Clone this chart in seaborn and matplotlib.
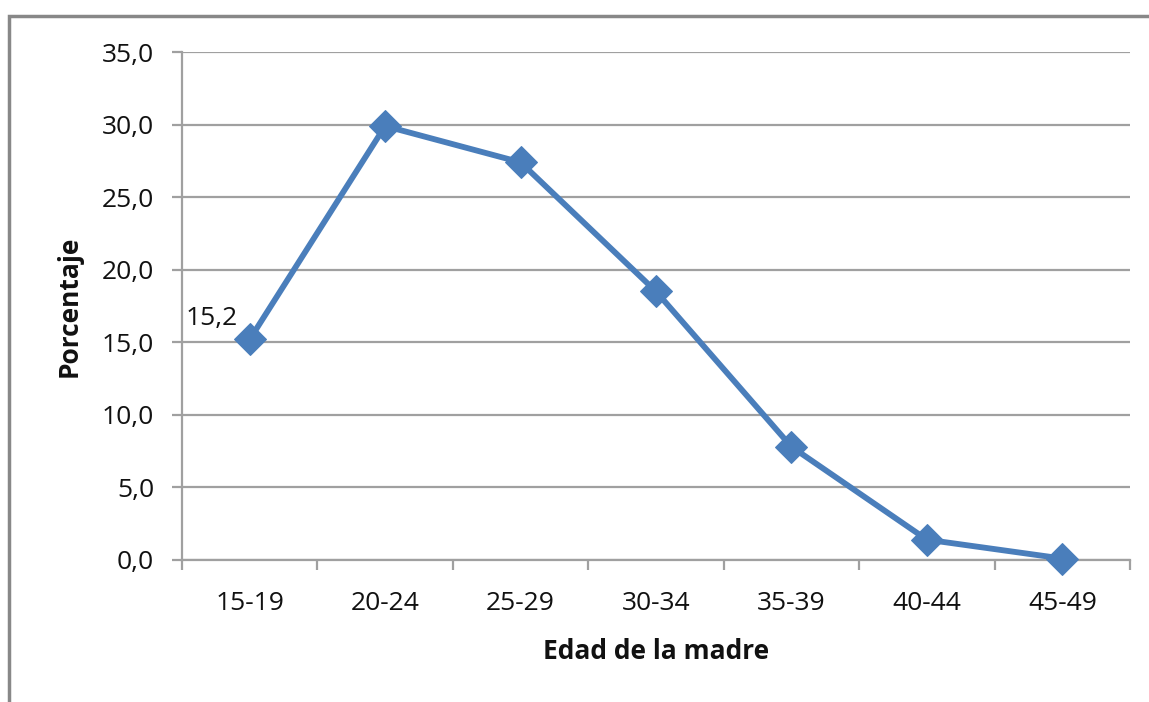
import matplotlib
matplotlib.use("Agg")
import matplotlib.pyplot as plt
import seaborn as sns
import pandas as pd
from matplotlib.ticker import FuncFormatter, FixedLocator
from matplotlib.patches import Rectangle

categories = ["15-19", "20-24", "25-29", "30-34", "35-39", "40-44", "45-49"]
values = [15.2, 29.9, 27.4, 18.5, 7.8, 1.4, 0.1]
yticks = [0, 5, 10, 15, 20, 25, 30, 35]
x_label = "Edad de la madre"
y_label = "Porcentaje"
data_label = "15,2"

sns.set_style("white")
plt.rcParams['font.family'] = ['Open Sans', 'DejaVu Sans']

df = pd.DataFrame({"x": range(len(categories)), "y": values})

fig = plt.figure(figsize=(11.49, 7.02), dpi=100)
ax = fig.add_axes([0.1584, 0.2023, 0.9835 - 0.1584, 0.9259 - 0.2023])

blue = "#4A7EBB"
grid = "#A0A0A0"
txt = "#111111"
fs = 19

sns.lineplot(data=df, x="x", y="y", ax=ax, color=blue, linewidth=4.2,
             marker="D", markersize=16, markeredgecolor=blue, markerfacecolor=blue,
             clip_on=False, zorder=5)

ax.set_xlim(-0.5, len(categories) - 0.5)
ax.set_ylim(0, 35)
ax.set_yticks(yticks)
ax.yaxis.set_major_formatter(FuncFormatter(lambda v, p: f"{v:.1f}".replace(".", ",")))
ax.grid(axis="y", color=grid, linewidth=1.6)
ax.set_axisbelow(True)

# x ticks at category boundaries, labels at centers
ax.xaxis.set_major_locator(FixedLocator([i - 0.5 for i in range(len(categories) + 1)]))
ax.xaxis.set_major_formatter(FuncFormatter(lambda v, p: ""))
ax.set_xticks(range(len(categories)), labels=categories, minor=True)
ax.tick_params(axis="x", which="minor", length=0, pad=22, labelsize=fs, labelcolor=txt)
ax.tick_params(axis="x", which="major", length=7, width=1.6, color=grid, direction="out", bottom=True)
ax.tick_params(axis="y", length=7, width=1.6, color=grid, direction="out", left=True,
               labelsize=fs, labelcolor=txt, pad=13)

for s in ["top", "right"]:
    ax.spines[s].set_visible(False)
for s in ["left", "bottom"]:
    ax.spines[s].set_color(grid)
    ax.spines[s].set_linewidth(1.6)

ax.set_xlabel(x_label, fontsize=fs, fontweight="bold", labelpad=16, color=txt)
ax.set_ylabel(y_label, fontsize=fs, fontweight="bold", labelpad=14, color=txt)

ax.annotate(data_label, xy=(0, values[0]), xytext=(-46, 6), textcoords="offset points",
            fontsize=fs, color=txt, va="bottom", ha="left")

# outer chart border
fig.patches.append(Rectangle((9 / 1149, -0.05), 1.2, 1 - 16 / 702 + 0.05,
                             transform=fig.transFigure, fill=False,
                             edgecolor="#888888", linewidth=2.5))

fig.savefig("out.png", dpi=100)
